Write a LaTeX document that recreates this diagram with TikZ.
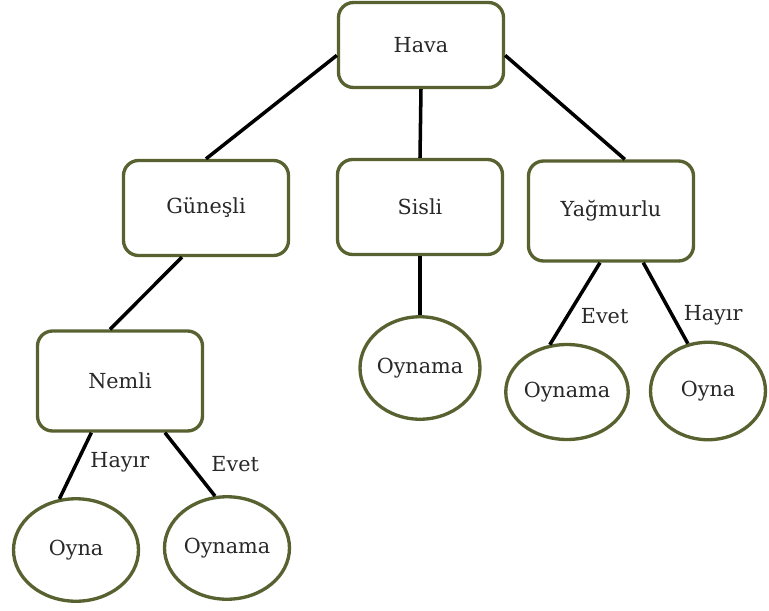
\documentclass[tikz,border=0pt]{standalone}
\usepackage{fontspec}
\setmainfont{DejaVu Serif}
\usetikzlibrary{shapes.geometric}
\definecolor{boxgreen}{RGB}{88,98,48}
\definecolor{textgray}{RGB}{40,40,40}
\tikzset{
  karar/.style={draw=boxgreen,line width=1.9pt,rounded corners=0.3cm,fill=white,
    minimum width=3.3cm,text=textgray,font=\fontsize{11.8}{14}\selectfont},
  sonuc/.style={draw=boxgreen,ellipse,line width=1.9pt,fill=white,inner xsep=-3pt,inner ysep=1pt,
    text=textgray,font=\fontsize{11.8}{14}\selectfont},
  kol/.style={line width=2pt,black},
  etiket/.style={text=textgray,font=\fontsize{11.8}{14}\selectfont,inner sep=1pt}
}
\begin{document}
\begin{tikzpicture}[x=0.02cm,y=-0.02cm]
  \useasboundingbox (0,0) rectangle (769,610);
  % karar kutulari
  \node[karar,minimum height=1.7cm] (hava) at (421,45) {Hava};
  \node[karar,minimum height=1.9cm] (gunesli) at (206,208) {Güneşli};
  \node[karar,minimum height=1.9cm] (sisli) at (420,207) {Sisli};
  \node[karar,minimum height=2.0cm] (yagmurlu) at (611,211) {Yağmurlu};
  \node[karar,minimum height=2.0cm] (nemli) at (120,381) {Nemli};
  % yapraklar
  \node[sonuc,minimum width=2.4cm,minimum height=2.05cm] (sislioyn) at (420,368) {Oynama};
  \node[sonuc,minimum width=2.45cm,minimum height=1.9cm] (yoynama) at (567,392) {Oynama};
  \node[sonuc,minimum width=2.3cm,minimum height=1.95cm] (yoyna) at (708,391) {Oyna};
  \node[sonuc,minimum width=2.5cm,minimum height=2.05cm] (noyna) at (76,550) {Oyna};
  \node[sonuc,minimum width=2.5cm,minimum height=2.05cm] (noynama) at (227,548) {Oynama};
  % kollar
  \draw[kol] (hava.187) -- (gunesli.north);
  \draw[kol] (hava.south) -- (sisli.north);
  \draw[kol] (hava.-7) -- (yagmurlu.75);
  \draw[kol] (gunesli.244) -- (nemli.101);
  \draw[kol] (sisli.south) -- (sislioyn.north);
  \draw[kol] (yagmurlu.258) -- node[etiket,pos=0.65,right=0.2cm] {Evet} (yoynama.110);
  \draw[kol] (yagmurlu.-58) -- node[etiket,pos=0.65,right=0.16cm] {Hayır} (yoyna.113);
  \draw[kol] (nemli.241) -- node[etiket,pos=0.45,right=0.2cm] {Hayır} (noyna.108);
  \draw[kol] (nemli.-49) -- node[etiket,pos=0.5,right=0.36cm] {Evet} (noynama.103);
\end{tikzpicture}
\end{document}
